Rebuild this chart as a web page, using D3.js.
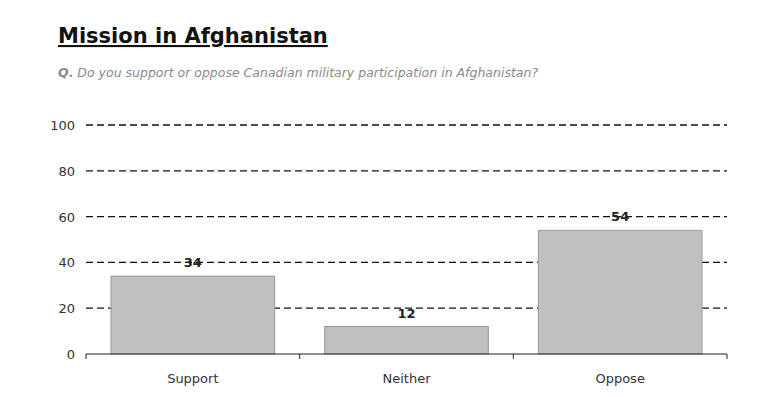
<!DOCTYPE html>
<html>
<head>
<meta charset="utf-8">
<script src="https://cdn.jsdelivr.net/npm/d3@7"></script>
<style>
  body { margin: 0; background: #fff; }
  text { font-family: Tahoma, "DejaVu Sans", Verdana, sans-serif; }
</style>
</head>
<body>
<script>
'use strict';

// chart data
let categories = ["Support", "Neither", "Oppose"];
let values = [34, 12, 54];
let yTicks = [0, 20, 40, 60, 80, 100];

(function() {
  let width = 780, height = 397;
  let svg = d3.select('body').append('svg')
    .attr('width', width)
    .attr('height', height);

  // title
  svg.append('text')
    .attr('x', 58)
    .attr('y', 43)
    .style('font-size', '21px')
    .style('font-weight', 'bold')
    .style('text-decoration', 'underline')
    .attr('fill', '#111')
    .text('Mission in Afghanistan');

  let q = svg.append('text')
    .attr('x', 58)
    .attr('y', 77)
    .style('font-size', '12.5px')
    .style('font-style', 'italic')
    .attr('fill', '#8a8a8a');
  q.append('tspan').style('font-weight', 'bold').text('Q.');
  q.append('tspan').text(' Do you support or oppose Canadian military participation in Afghanistan?');

  // scales
  let x = d3.scaleBand()
    .domain(categories)
    .range([86, 727])
    .paddingInner(0.234)
    .paddingOuter(0.117);

  let y = d3.scaleLinear()
    .domain([0, 100])
    .range([354, 125]);

  // dashed grid lines
  svg.append('g')
    .selectAll('line')
    .data(yTicks.filter((d) => d > 0))
    .enter()
    .append('line')
    .attr('x1', 86)
    .attr('x2', 727)
    .attr('y1', (d) => y(d))
    .attr('y2', (d) => y(d))
    .attr('stroke', '#111')
    .attr('stroke-width', 1.3)
    .attr('stroke-dasharray', '7,4');

  // y tick labels
  svg.append('g')
    .selectAll('text')
    .data(yTicks)
    .enter()
    .append('text')
    .attr('x', 75)
    .attr('y', (d) => y(d) + 5)
    .attr('text-anchor', 'end')
    .style('font-size', '13px')
    .attr('fill', '#333')
    .text((d) => d);

  // bars
  svg.append('g')
    .selectAll('rect')
    .data(values)
    .enter()
    .append('rect')
    .attr('x', (d, i) => x(categories[i]))
    .attr('y', (d) => y(d))
    .attr('width', x.bandwidth())
    .attr('height', (d) => y(0) - y(d))
    .attr('fill', '#c0c0c0')
    .attr('stroke', '#999')
    .attr('stroke-width', 1);

  // value labels
  svg.append('g')
    .selectAll('text')
    .data(values)
    .enter()
    .append('text')
    .attr('x', (d, i) => x(categories[i]) + x.bandwidth() / 2)
    .attr('y', (d) => y(d) - 9)
    .attr('text-anchor', 'middle')
    .style('font-size', '13px')
    .style('font-weight', 'bold')
    .attr('fill', '#222')
    .text((d) => d);

  // x axis with ticks between categories
  let axisG = svg.append('g');
  axisG.append('line')
    .attr('x1', 86).attr('x2', 727)
    .attr('y1', y(0)).attr('y2', y(0))
    .attr('stroke', '#222');
  axisG.selectAll('.tick')
    .data(d3.range(categories.length + 1))
    .enter()
    .append('line')
    .attr('x1', (d) => 86 + d * (641 / categories.length))
    .attr('x2', (d) => 86 + d * (641 / categories.length))
    .attr('y1', y(0))
    .attr('y2', y(0) + 5)
    .attr('stroke', '#222');

  axisG.selectAll('.cat')
    .data(categories)
    .enter()
    .append('text')
    .attr('x', (d) => x(d) + x.bandwidth() / 2)
    .attr('y', 383)
    .attr('text-anchor', 'middle')
    .style('font-size', '13px')
    .attr('fill', '#333')
    .text((d) => d);
})();
</script>
</body>
</html>
